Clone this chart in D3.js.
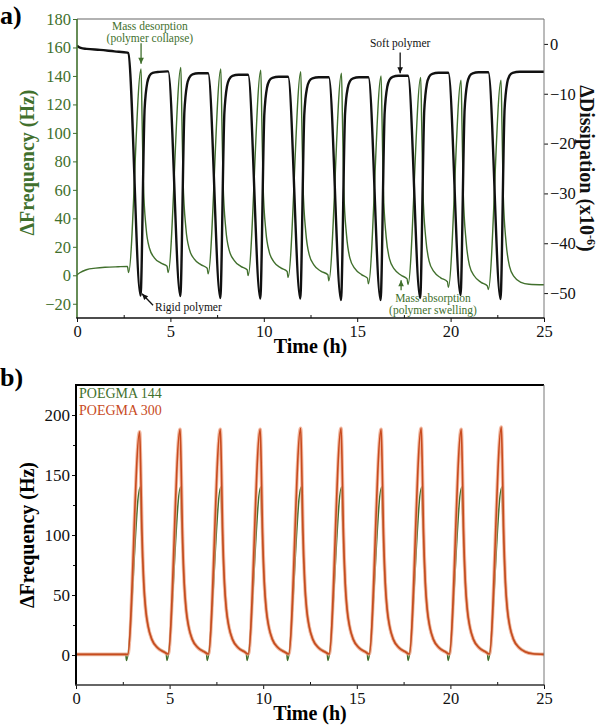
<!DOCTYPE html>
<html><head><meta charset="utf-8">
<script src="https://cdn.jsdelivr.net/npm/d3@7"></script>
<style>
body{margin:0;background:#fff}
svg{display:block}
text{font-family:"Liberation Serif","Times New Roman",Times,serif}
</style>
</head><body>
<svg id="c" width="600" height="726"></svg>
<script>
// ---------- DATA ----------
// Panel a: time (h), ΔFrequency (Hz)
const freqA = [
 [0,0.3],[0.15,1.8],[0.5,3.9],[1.0,5.0],[1.5,5.6],[2.2,6.0],[2.70,6.2],
 [2.76,2.0],[3.43,145],[3.48,113],[3.55,66],[3.70,33],[3.88,19],[4.14,12.3],[4.50,8.5],[4.82,6.3],
 [4.88,2.0],[5.56,146],[5.61,114],[5.68,66],[5.83,33],[6.01,18.5],[6.27,11.5],[6.63,7.5],[6.97,5.0],
 [7.02,1.0],[7.70,145],[7.75,113],[7.82,65],[7.97,32],[8.15,17.5],[8.41,10.5],[8.77,6.3],[9.11,3.9],
 [9.16,-0.2],[9.84,144],[9.89,112],[9.96,64],[10.11,31],[10.29,16.5],[10.55,9.3],[10.91,5.2],[11.25,2.7],
 [11.30,-1.5],[11.98,143],[12.03,111],[12.10,63],[12.25,30],[12.43,14.5],[12.69,7.2],[13.05,2.9],[13.43,0.4],
 [13.48,-3.8],[14.16,142],[14.21,110],[14.28,61],[14.43,28],[14.61,12],[14.87,4.8],[15.23,0.5],[15.55,-2.0],
 [15.60,-6.0],[16.28,140],[16.33,109],[16.40,60],[16.55,27],[16.73,11.5],[16.99,4.3],[17.35,0],[17.67,-2.5],
 [17.72,-6.5],[18.40,139],[18.45,108],[18.52,59],[18.67,26],[18.85,10],[19.11,2.5],[19.47,-1.8],[19.83,-4.5],
 [19.88,-8.5],[20.56,137],[20.61,106],[20.68,57],[20.83,24],[21.01,7],[21.27,-0.5],[21.63,-5.0],[21.97,-7.5],
 [22.02,-10],[22.70,137],[22.75,106],[22.82,56],[22.97,23],[23.15,6.5],[23.41,-1.2],[23.77,-5.0],[24.2,-6.3],[25,-6.7]
];
// Panel a: time (h), ΔDissipation (x10^-6)
const dissA = [
 [0,-0.35],[0.2,-0.8],[0.52,-1.0],[1.23,-1.2],[2.0,-1.5],[2.70,-1.75],
 [2.74,-1.8],[3.40,-50.5],[3.62,-13],[3.68,-10],[3.76,-7.8],[3.88,-6.4],[4.05,-5.8],[4.4,-5.6],[4.84,-5.5],
 [4.88,-5.5],[5.53,-50.6],[5.75,-13.5],[5.81,-10.5],[5.89,-8.2],[6.01,-6.8],[6.18,-6.1],[6.5,-5.9],[6.98,-5.9],
 [7.02,-5.9],[7.67,-51.0],[7.89,-13.8],[7.95,-10.8],[8.03,-8.5],[8.15,-7.1],[8.32,-6.4],[8.65,-6.2],[9.12,-6.2],
 [9.16,-6.2],[9.81,-51.1],[10.03,-14],[10.09,-11],[10.17,-8.8],[10.29,-7.4],[10.46,-6.8],[10.8,-6.6],[11.26,-6.6],
 [11.30,-6.6],[11.95,-51.1],[12.17,-14],[12.23,-11],[12.31,-8.9],[12.43,-7.5],[12.60,-6.9],[12.95,-6.7],[13.44,-6.7],
 [13.48,-6.7],[14.13,-51.4],[14.35,-14],[14.41,-11],[14.49,-8.9],[14.61,-7.5],[14.78,-6.9],[15.1,-6.7],[15.56,-6.7],
 [15.60,-6.7],[16.25,-51.4],[16.47,-13.8],[16.53,-10.8],[16.61,-8.6],[16.73,-7.2],[16.90,-6.6],[17.2,-6.4],[17.68,-6.4],
 [17.72,-6.4],[18.37,-51.0],[18.59,-13.3],[18.65,-10.3],[18.73,-8],[18.85,-6.6],[19.02,-6.0],[19.35,-5.8],[19.84,-5.8],
 [19.88,-5.8],[20.53,-50.4],[20.75,-13.2],[20.81,-10.2],[20.89,-7.9],[21.01,-6.5],[21.18,-5.9],[21.5,-5.7],[21.98,-5.7],
 [22.02,-5.7],[22.67,-51.2],[22.89,-13.1],[22.95,-10.1],[23.03,-7.8],[23.15,-6.4],[23.32,-5.8],[23.7,-5.6],[25,-5.6]
];
// Panel b: POEGMA 144, time (h), ΔFrequency (Hz)
const freqB144 = [
 [0,0.5],[2.66,0.5],[2.70,-4.5],[3.43,140],[3.48,116],[3.55,82],[3.65,52],[3.75,35],[3.88,22],[4.08,12],[4.38,6],[4.73,2.5],[4.82,1.5],
 [4.86,-4.5],[5.59,140],[5.64,116],[5.71,82],[5.81,52],[5.91,35],[6.04,22],[6.24,12],[6.54,6],[6.89,2.5],[6.97,1.5],
 [7.01,-4.5],[7.74,140],[7.79,116],[7.86,82],[7.96,52],[8.06,35],[8.19,22],[8.39,12],[8.69,6],[9.04,2.5],[9.10,1.5],
 [9.14,-4.5],[9.87,140],[9.92,116],[9.99,82],[10.09,52],[10.19,35],[10.32,22],[10.52,12],[10.82,6],[11.17,2.5],[11.26,1.5],
 [11.30,-4.5],[12.03,140],[12.08,116],[12.15,82],[12.25,52],[12.35,35],[12.48,22],[12.68,12],[12.98,6],[13.33,2.5],[13.42,1.5],
 [13.46,-4.5],[14.19,140],[14.24,116],[14.31,82],[14.41,52],[14.51,35],[14.64,22],[14.84,12],[15.14,6],[15.49,2.5],[15.56,1.5],
 [15.60,-4.5],[16.33,140],[16.38,116],[16.45,82],[16.55,52],[16.65,35],[16.78,22],[16.98,12],[17.28,6],[17.63,2.5],[17.70,1.5],
 [17.74,-4.5],[18.47,140],[18.52,116],[18.59,82],[18.69,52],[18.79,35],[18.92,22],[19.12,12],[19.42,6],[19.77,2.5],[19.84,1.5],
 [19.88,-4.5],[20.61,140],[20.66,116],[20.73,82],[20.83,52],[20.93,35],[21.06,22],[21.26,12],[21.56,6],[21.91,2.5],[21.98,1.5],
 [22.02,-4.5],[22.75,140],[22.80,116],[22.87,82],[22.97,52],[23.07,35],[23.20,22],[23.40,12],[23.70,6],[24.05,2.5],[24.5,1],[25,0.5]
];
// Panel b: POEGMA 300
const freqB300 = [
 [0,0.5],[2.76,0.5],
 [3.40,186],[3.45,160],[3.52,105],[3.62,60],[3.72,38],[3.85,24],[4.05,13],[4.35,6],[4.70,2.5],[4.92,0.8],
 [5.56,188],[5.61,162],[5.68,106],[5.78,60],[5.88,38],[6.01,24],[6.21,13],[6.51,6],[6.86,2.5],[7.07,0.8],
 [7.71,188],[7.76,162],[7.83,106],[7.93,60],[8.03,38],[8.16,24],[8.36,13],[8.66,6],[9.01,2.5],[9.20,0.8],
 [9.84,188],[9.89,162],[9.96,106],[10.06,60],[10.16,38],[10.29,24],[10.49,13],[10.79,6],[11.14,2.5],[11.36,0.8],
 [12.00,189],[12.05,163],[12.12,106],[12.22,60],[12.32,38],[12.45,24],[12.65,13],[12.95,6],[13.30,2.5],[13.52,0.8],
 [14.16,189],[14.21,163],[14.28,106],[14.38,60],[14.48,38],[14.61,24],[14.81,13],[15.11,6],[15.46,2.5],[15.66,0.8],
 [16.30,188],[16.35,162],[16.42,106],[16.52,60],[16.62,38],[16.75,24],[16.95,13],[17.25,6],[17.60,2.5],[17.80,0.8],
 [18.44,189],[18.49,163],[18.56,106],[18.66,60],[18.76,38],[18.89,24],[19.09,13],[19.39,6],[19.74,2.5],[19.94,0.8],
 [20.58,188],[20.63,162],[20.70,106],[20.80,60],[20.90,38],[21.03,24],[21.23,13],[21.53,6],[21.88,2.5],[22.08,0.8],
 [22.72,190],[22.77,164],[22.84,107],[22.94,60],[23.04,38],[23.17,24],[23.37,13],[23.67,6],[24.02,2.5],[24.4,1],[25,0.5]
];
const xTicks = [0,5,10,15,20,25];
const xMinorTicks = [2.5,7.5,12.5,17.5,22.5];
const yTicksFreqA = [-20,0,20,40,60,80,100,120,140,160,180];
const yTicksDissA = [0,-10,-20,-30,-40,-50];
const yTicksFreqB = [0,50,100,150,200];
const yMinorFreqB = [25,75,125,175];
const legendLabels = ["POEGMA 144","POEGMA 300"];

// ---------- STYLE ----------
const FONT = '"Liberation Serif","Times New Roman",Times,serif';
const GREEN = "#41702d", BLACK = "#111", ORANGE = "#c84b1e", HALO = "#eda283";
const svg = d3.select("#c").attr("font-family", FONT);

// ---------- PANEL A ----------
const A = {l:77, r:544, t:19, b:318};
const xA = d3.scaleLinear().domain([0,25]).range([A.l,A.r]);
const yL = d3.scaleLinear().domain([-30,180]).range([A.b,A.t]);
const yR = d3.scaleLinear().domain([-55,5]).range([A.b,A.t]);

svg.append("clipPath").attr("id","clipA").append("rect")
  .attr("x",A.l).attr("y",A.t).attr("width",A.r-A.l).attr("height",A.b-A.t);

const gA = svg.append("g").attr("clip-path","url(#clipA)");
gA.append("path").datum(freqA)
  .attr("d", d3.line().x(d=>xA(d[0])).y(d=>yL(d[1])).curve(d3.curveMonotoneX))
  .attr("fill","none").attr("stroke",GREEN).attr("stroke-width",1.4);
gA.append("path").datum(dissA)
  .attr("d", d3.line().x(d=>xA(d[0])).y(d=>yR(d[1])).curve(d3.curveMonotoneX))
  .attr("fill","none").attr("stroke",BLACK).attr("stroke-width",2.4).attr("stroke-linejoin","round");

// axes panel a
function styleAxis(g, color, size){
  g.attr("font-family", FONT);
  g.select(".domain").remove();
  g.selectAll(".tick line").attr("stroke",color).attr("stroke-width",1);
  g.selectAll(".tick text").attr("fill",color).attr("font-size",size).attr("font-family",FONT);
}
const axL = svg.append("g").attr("transform",`translate(${A.l},0)`)
  .call(d3.axisLeft(yL).tickValues(yTicksFreqA).tickSize(4).tickPadding(2));
styleAxis(axL, GREEN, 16.5);
const axR = svg.append("g").attr("transform",`translate(${A.r},0)`)
  .call(d3.axisRight(yR).tickValues(yTicksDissA).tickSize(4).tickPadding(2).tickFormat(d3.format("d")));
styleAxis(axR, BLACK, 16.5);
const axB = svg.append("g").attr("transform",`translate(0,${A.b})`)
  .call(d3.axisBottom(xA).tickValues(xTicks).tickSize(4).tickPadding(3));
styleAxis(axB, BLACK, 16.5);
const axBm = svg.append("g").attr("transform",`translate(0,${A.b})`)
  .call(d3.axisBottom(xA).tickValues(xMinorTicks).tickSize(-3).tickFormat(""));
styleAxis(axBm, BLACK, 1);

// frame panel a
svg.append("line").attr("x1",A.l).attr("x2",A.r).attr("y1",A.t).attr("y2",A.t).attr("stroke","#666").attr("stroke-width",1.2);
svg.append("line").attr("x1",A.r).attr("x2",A.r).attr("y1",A.t).attr("y2",A.b).attr("stroke","#777").attr("stroke-width",1);
svg.append("line").attr("x1",A.l).attr("x2",A.l).attr("y1",A.t).attr("y2",A.b).attr("stroke",GREEN).attr("stroke-width",1.6);
svg.append("line").attr("x1",A.l-0.8).attr("x2",A.r+0.5).attr("y1",A.b).attr("y2",A.b).attr("stroke",BLACK).attr("stroke-width",1.6);

// titles panel a
svg.append("text").attr("x",0).attr("y",24).attr("font-size",26).attr("font-weight","bold").text("a)");
svg.append("text").attr("transform",`translate(34,${(A.t+A.b)/2 - 6}) rotate(-90)`)
  .attr("text-anchor","middle").attr("font-size",20).attr("font-weight","bold").attr("fill",GREEN)
  .text("ΔFrequency (Hz)");
const rt = svg.append("text").attr("transform",`translate(580,${(A.t+A.b)/2}) rotate(90)`)
  .attr("text-anchor","middle").attr("font-size",20).attr("font-weight","bold").attr("fill",BLACK);
rt.append("tspan").text("ΔDissipation (x10");
rt.append("tspan").attr("dy",-7).attr("font-size",12).text("-6");
rt.append("tspan").attr("dy",7).text(")");
svg.append("text").attr("x",(A.l+A.r)/2).attr("y",353).attr("text-anchor","middle")
  .attr("font-size",20).attr("font-weight","bold").text("Time (h)");

// annotations panel a
function arrow(x1,y1,x2,y2,color){
  svg.append("line").attr("x1",x1).attr("y1",y1).attr("x2",x2).attr("y2",y2)
    .attr("stroke",color).attr("stroke-width",1.3);
  const ang = Math.atan2(y2-y1,x2-x1), L=6, W=2.8;
  const bx = x2 - L*Math.cos(ang), by = y2 - L*Math.sin(ang);
  const px = -Math.sin(ang)*W, py = Math.cos(ang)*W;
  svg.append("path").attr("d",`M${x2},${y2}L${bx+px},${by+py}L${bx-px},${by-py}Z`).attr("fill",color);
}
const annFont = 11.5;
// Mass desorption
svg.append("text").attr("x",xA(3.9)).attr("y",30).attr("text-anchor","middle").attr("font-size",annFont).attr("fill",GREEN).text("Mass desorption");
svg.append("text").attr("x",xA(3.9)).attr("y",42).attr("text-anchor","middle").attr("font-size",annFont).attr("fill",GREEN).text("(polymer collapse)");
arrow(xA(3.43),yL(163),xA(3.43),yL(148.5),GREEN);
// Soft polymer
svg.append("text").attr("x",xA(17.3)).attr("y",47).attr("text-anchor","middle").attr("font-size",annFont).attr("fill",BLACK).text("Soft polymer");
arrow(xA(17.3),yR(-1.7),xA(17.3),yR(-5.9),BLACK);
// Rigid polymer
svg.append("text").attr("x",155).attr("y",311).attr("font-size",annFont).attr("fill",BLACK).text("Rigid polymer");
arrow(xA(4.07),yL(-21),xA(3.48),yL(-13),BLACK);
// Mass absorption
svg.append("text").attr("x",433).attr("y",302).attr("text-anchor","middle").attr("font-size",annFont).attr("fill",GREEN).text("Mass absorption");
svg.append("text").attr("x",433).attr("y",314).attr("text-anchor","middle").attr("font-size",annFont).attr("fill",GREEN).text("(polymer swelling)");
arrow(xA(17.35),yL(-10.5),xA(17.35),yL(-3.5),GREEN);

// ---------- PANEL B ----------
const B = {l:76, r:544, t:385, b:685};
const xB = d3.scaleLinear().domain([0,25]).range([B.l,B.r]);
const yB = d3.scaleLinear().domain([-25,225]).range([B.b,B.t]);
svg.append("clipPath").attr("id","clipB").append("rect")
  .attr("x",B.l).attr("y",B.t).attr("width",B.r-B.l).attr("height",B.b-B.t);
const gB = svg.append("g").attr("clip-path","url(#clipB)");
const lineB = d3.line().x(d=>xB(d[0])).y(d=>yB(d[1])).curve(d3.curveMonotoneX);
gB.append("path").datum(freqB144).attr("d",lineB).attr("fill","none")
  .attr("stroke",GREEN).attr("stroke-width",1.6);
gB.append("path").datum(freqB300).attr("d",lineB).attr("fill","none")
  .attr("stroke",HALO).attr("stroke-width",3.6).attr("opacity",0.75).attr("stroke-linejoin","round");
gB.append("path").datum(freqB300).attr("d",lineB).attr("fill","none")
  .attr("stroke",ORANGE).attr("stroke-width",1.6).attr("stroke-linejoin","round");

const bL = svg.append("g").attr("transform",`translate(${B.l},0)`)
  .call(d3.axisLeft(yB).tickValues(yTicksFreqB).tickSize(4).tickPadding(2));
styleAxis(bL, BLACK, 17);
const bLm = svg.append("g").attr("transform",`translate(${B.l},0)`)
  .call(d3.axisLeft(yB).tickValues(yMinorFreqB).tickSize(3).tickFormat(""));
styleAxis(bLm, BLACK, 1);
const bB = svg.append("g").attr("transform",`translate(0,${B.b})`)
  .call(d3.axisBottom(xB).tickValues(xTicks).tickSize(4).tickPadding(3));
styleAxis(bB, BLACK, 16.5);
const bBm = svg.append("g").attr("transform",`translate(0,${B.b})`)
  .call(d3.axisBottom(xB).tickValues(xMinorTicks).tickSize(-3).tickFormat(""));
styleAxis(bBm, BLACK, 1);

svg.append("line").attr("x1",B.l).attr("x2",B.r).attr("y1",B.t).attr("y2",B.t).attr("stroke","#000").attr("stroke-width",2);
svg.append("line").attr("x1",B.r).attr("x2",B.r).attr("y1",B.t).attr("y2",B.b).attr("stroke","#777").attr("stroke-width",1);
svg.append("line").attr("x1",B.l).attr("x2",B.l).attr("y1",B.t-1).attr("y2",B.b).attr("stroke","#000").attr("stroke-width",2);
svg.append("line").attr("x1",B.l-1).attr("x2",B.r+0.5).attr("y1",B.b).attr("y2",B.b).attr("stroke","#333").attr("stroke-width",1.5);

svg.append("text").attr("x",0).attr("y",386).attr("font-size",26).attr("font-weight","bold").text("b)");
svg.append("text").attr("transform",`translate(34,${(B.t+B.b)/2}) rotate(-90)`)
  .attr("text-anchor","middle").attr("font-size",20).attr("font-weight","bold").text("ΔFrequency (Hz)");
svg.append("text").attr("x",(B.l+B.r)/2).attr("y",720).attr("text-anchor","middle")
  .attr("font-size",20).attr("font-weight","bold").text("Time (h)");

const legColors = [GREEN, ORANGE];
svg.selectAll("text.leg").data(legendLabels).join("text").attr("class","leg")
  .attr("x",79).attr("y",(d,i)=>398+i*16.5).attr("font-size",14)
  .attr("fill",(d,i)=>legColors[i]).text(d=>d);
</script>
</body></html>
